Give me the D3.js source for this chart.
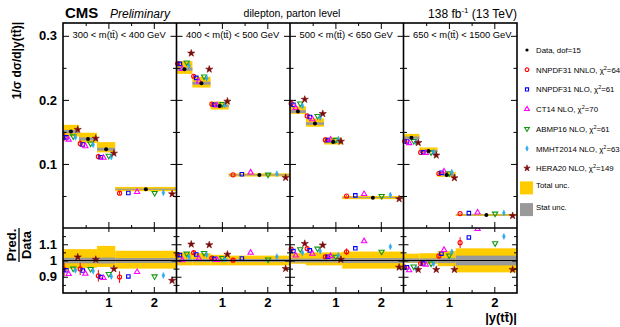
<!DOCTYPE html>
<html>
<head>
<meta charset="utf-8">
<script src="https://cdn.jsdelivr.net/npm/d3@7"></script>
<style>
  body { margin: 0; background: #fff; }
  svg { display: block; font-family: "Liberation Sans", Arial, sans-serif; }
</style>
</head>
<body>
<svg id="chart" width="620" height="327"></svg>
<script>
// mass bins (one panel each) and |y(tt)| bin edges inside a panel
const massBins = ["300 < m(tt\u0304) < 400 GeV", "400 < m(tt\u0304) < 500 GeV",
                  "500 < m(tt\u0304) < 650 GeV", "650 < m(tt\u0304) < 1500 GeV"];
const yEdges = [0, 0.35, 0.75, 1.15, 2.5];

// measured 1/sigma dsigma/d|y(tt)|, 16 bins (panel by panel)
const dataVals = [0.1505, 0.139, 0.123, 0.0605,
                  0.248, 0.226, 0.1906, 0.0828,
                  0.1818, 0.163, 0.1344, 0.0474,
                  0.141, 0.1203, 0.0828, 0.0203];
// relative uncertainties
const totUp = [0.07, 0.07, 0.09, 0.06,  0.05, 0.045, 0.035, 0.03,  0.045, 0.05, 0.05, 0.055,  0.042, 0.045, 0.058, 0.075];
const totDn = [0.05, 0.045, 0.04, 0.05,  0.03, 0.03, 0.03, 0.03,  0.02, 0.03, 0.03, 0.05,  0.015, 0.02, 0.035, 0.073];
const statUnc = [0.017, 0.017, 0.018, 0.015,  0.01, 0.01, 0.01, 0.01,  0.012, 0.012, 0.012, 0.015,  0.013, 0.013, 0.016, 0.03];

// prediction / data
const ratioNnpdfNnlo = [0.944, 0.948, 0.906, 0.898,  1.035, 1.048, 1.015, 1.002,  1.07, 1.073, 1.023, 1.054,  0.96, 0.981, 1.027, 1.11];
const errNnpdfNnlo   = [0.045, 0.04, 0.04, 0.04,  0.01, 0.01, 0.01, 0.01,  0.01, 0.01, 0.012, 0.02,  0.01, 0.01, 0.015, 0.03];
const ratioNnpdfNlo  = [0.94, 0.938, 0.898, 0.902,  1.033, 1.037, 1.01, 1.0125,  1.058, 1.0625, 1.023, 1.075,  0.958, 0.981, 1.042, 1.142];
const ratioCt14      = [0.917, 0.919, 0.892, 0.929,  1.002, 1.0125, 1.004, 1.048,  1.031, 1.042, 1.027, 1.119,  0.94, 0.975, 1.065, 1.194];
const ratioAbmp16    = [0.95, 0.948, 0.917, 0.902,  1.042, 1.046, 1.015, 1.006,  1.069, 1.073, 1.023, 1.054,  0.9625, 0.981, 1.031, 1.106];
const ratioMmht2014  = [0.94, 0.935, 0.902, 0.908,  1.023, 1.035, 1.01, 1.023,  1.048, 1.058, 1.031, 1.085,  0.95, 0.981, 1.052, 1.148];
const ratioHera20    = [1.021, 1.006, 0.948, 0.877,  1.10, 1.096, 1.0375, 0.95,  1.104, 1.094, 1.006, 0.958,  0.944, 0.944, 0.944, 0.944];

const modelNames = ["NNPDF31 NNLO", "NNPDF31 NLO", "CT14 NLO", "ABMP16 NLO", "MMHT2014 NLO", "HERA20 NLO"];
const modelChi2 = [64, 61, 70, 61, 63, 149];
const dof = 15;

const thinDiamond = { draw(ctx, size) { const s = Math.sqrt(size) * 0.75;
  ctx.moveTo(0, -s); ctx.lineTo(s * 0.45, 0); ctx.lineTo(0, s); ctx.lineTo(-s * 0.45, 0); ctx.closePath(); } };

const series = [
  { ratio: ratioNnpdfNnlo, err: errNnpdfNnlo, color: "#ff0000", type: d3.symbolCircle, size: 13, fill: false, slot: 0 },
  { ratio: ratioNnpdfNlo, color: "#0000ff", type: d3.symbolSquare, size: 12, fill: false, slot: 1 },
  { ratio: ratioCt14, color: "#ff00ff", type: d3.symbolTriangle, size: 12, fill: false, slot: 2 },
  { ratio: ratioAbmp16, color: "#119911", type: d3.symbolTriangle, size: 12, fill: false, slot: 4, rot: 180 },
  { ratio: ratioMmht2014, color: "#2fa8f0", type: thinDiamond, size: 16, fill: true, slot: 5 },
  { ratio: ratioHera20, color: "#7a0a0a", type: d3.symbolStar, size: 16, fill: true, slot: 6 }
];
series.forEach((s, i) => { s.name = modelNames[i]; s.chi2 = modelChi2[i]; });

const svg = d3.select("#chart");
const L = 63, R = 517, T = 23, M = 228, B = 293;
const nP = massBins.length, nB = yEdges.length - 1, pw = (R - L) / nP;
const yTop = d3.scaleLinear().domain([0, 0.32]).range([M, T]);
const yRat = d3.scaleLinear().domain([0.8, 1.2]).range([B, M]);
const YELLOW = "#ffcc00", GREY = "#999999";

svg.append("clipPath").attr("id", "clipTop").append("rect").attr("x", L).attr("y", T).attr("width", R - L).attr("height", M - T);
svg.append("clipPath").attr("id", "clipRat").append("rect").attr("x", L).attr("y", M).attr("width", R - L).attr("height", B - M);

const gTop = svg.append("g").attr("clip-path", "url(#clipTop)");
const gRat = svg.append("g").attr("clip-path", "url(#clipRat)");

function marker(g, s, x, y) {
  g.append("path")
    .attr("d", d3.symbol().type(s.type).size(s.size)())
    .attr("transform", `translate(${x},${y})` + (s.rot ? ` rotate(${s.rot})` : ""))
    .attr("fill", s.fill ? s.color : "none")
    .attr("stroke", s.color)
    .attr("stroke-width", s.fill ? 0.6 : 1.1);
}

for (let p = 0; p < nP; p++) {
  const x = d3.scaleLinear().domain([0, 2.5]).range([L + p * pw, L + (p + 1) * pw]);

  for (let b = 0; b < nB; b++) {
    const k = p * nB + b, d = dataVals[k];
    const x0 = x(yEdges[b]), x1 = x(yEdges[b + 1]), bw = x1 - x0;

    // top panel boxes
    gTop.append("rect").attr("x", x0).attr("width", bw)
      .attr("y", yTop(d * (1 + totUp[k]))).attr("height", yTop(d * (1 - totDn[k])) - yTop(d * (1 + totUp[k])))
      .attr("fill", YELLOW);
    gTop.append("rect").attr("x", x0).attr("width", bw)
      .attr("y", yTop(d * (1 + statUnc[k]))).attr("height", yTop(d * (1 - statUnc[k])) - yTop(d * (1 + statUnc[k])))
      .attr("fill", GREY);
    // ratio bands
    gRat.append("rect").attr("x", x0).attr("width", bw)
      .attr("y", yRat(1 + totUp[k])).attr("height", yRat(1 - totDn[k]) - yRat(1 + totUp[k]))
      .attr("fill", YELLOW);
    gRat.append("rect").attr("x", x0).attr("width", bw)
      .attr("y", yRat(1 + statUnc[k])).attr("height", yRat(1 - statUnc[k]) - yRat(1 + statUnc[k]))
      .attr("fill", GREY);
  }
}

// unity line
svg.append("line").attr("x1", L).attr("x2", R).attr("y1", yRat(1)).attr("y2", yRat(1))
  .attr("stroke", "#000").attr("stroke-width", 1);

for (let p = 0; p < nP; p++) {
  const x = d3.scaleLinear().domain([0, 2.5]).range([L + p * pw, L + (p + 1) * pw]);
  for (let b = 0; b < nB; b++) {
    const k = p * nB + b, d = dataVals[k];
    const x0 = x(yEdges[b]), bw = x(yEdges[b + 1]) - x0;
    const slotX = i => x0 + (i + 0.5) / 7 * bw;
    series.forEach(s => {
      const r = s.ratio[k], sx = slotX(s.slot);
      if (s.err) {
        gRat.append("line").attr("x1", sx).attr("x2", sx)
          .attr("y1", yRat(r * (1 + s.err[k]))).attr("y2", yRat(r * (1 - s.err[k])))
          .attr("stroke", s.color).attr("stroke-width", 1);
        gTop.append("line").attr("x1", sx).attr("x2", sx)
          .attr("y1", yTop(d * r * (1 + s.err[k]))).attr("y2", yTop(d * r * (1 - s.err[k])))
          .attr("stroke", s.color).attr("stroke-width", 1);
      }
      marker(gTop, s, sx, yTop(d * r));
      marker(gRat, s, sx, yRat(r));
    });
    gTop.append("circle").attr("cx", slotX(3)).attr("cy", yTop(d)).attr("r", 2).attr("fill", "#000");
  }

  // axes for this panel
  const xa = L + p * pw, xb = L + (p + 1) * pw;
  const noLab = g => g.call(a => a.select(".domain").remove());
  const xMaj = [1, 2], xMin = [0.5, 1.5];
  [[T, d3.axisTop], [M, d3.axisBottom], [B, d3.axisBottom]].forEach(([yy, ax]) => {
    const lab = yy === B;
    svg.append("g").attr("transform", `translate(0,${yy})`)
      .call(ax(x).tickValues(xMaj).tickSize(-6).tickPadding(5).tickFormat(lab ? d3.format("d") : ""))
      .call(noLab)
      .call(g => g.selectAll("text").attr("font-size", 13).attr("font-weight", "bold").attr("fill", "#000"));
    svg.append("g").attr("transform", `translate(0,${yy})`)
      .call(ax(x).tickValues(xMin).tickSize(-3).tickFormat("")).call(noLab);
  });
  // ratio top edge ticks
  svg.append("g").attr("transform", `translate(0,${M})`)
    .call(d3.axisTop(x).tickValues(xMaj).tickSize(-4).tickFormat("")).call(noLab);

  [[xa, d3.axisLeft], [xb, d3.axisRight]].forEach(([xx, ax]) => {
    const lab = p === 0 && ax === d3.axisLeft;
    svg.append("g").attr("transform", `translate(${xx},0)`)
      .call(ax(yTop).tickValues([0.1, 0.2, 0.3]).tickSize(-6).tickPadding(6).tickFormat(lab ? d3.format(".1f") : ""))
      .call(noLab)
      .call(g => g.selectAll("text").attr("font-size", 13).attr("font-weight", "bold").attr("fill", "#000"));
    svg.append("g").attr("transform", `translate(${xx},0)`)
      .call(ax(yTop).tickValues([0.05, 0.15, 0.25]).tickSize(-3.5).tickFormat("")).call(noLab);
    svg.append("g").attr("transform", `translate(${xx},0)`)
      .call(ax(yRat).tickValues([0.9, 1, 1.1]).tickSize(-5).tickPadding(6).tickFormat(lab ? (v => v === 1 ? "1" : d3.format(".1f")(v)) : ""))
      .call(noLab)
      .call(g => g.selectAll("text").attr("font-size", 13).attr("font-weight", "bold").attr("fill", "#000"));
    svg.append("g").attr("transform", `translate(${xx},0)`)
      .call(ax(yRat).tickValues([0.85, 0.95, 1.05, 1.15]).tickSize(-3).tickFormat("")).call(noLab);
  });

  // panel label
  svg.append("text").attr("x", xa + 9.5).attr("y", 37.5).attr("font-size", 9.4).text(massBins[p]);
}

// frames
svg.append("rect").attr("x", L).attr("y", T).attr("width", R - L).attr("height", B - T)
  .attr("fill", "none").attr("stroke", "#000").attr("stroke-width", 1.6);
svg.append("line").attr("x1", L).attr("x2", R).attr("y1", M).attr("y2", M).attr("stroke", "#000").attr("stroke-width", 1.6);
for (let p = 1; p < nP; p++) {
  svg.append("line").attr("x1", L + p * pw).attr("x2", L + p * pw).attr("y1", T).attr("y2", B)
    .attr("stroke", "#000").attr("stroke-width", 1.6);
}

// headers
svg.append("text").attr("x", L + 2).attr("y", 18).attr("font-size", 15).attr("font-weight", "bold").text("CMS");
svg.append("text").attr("x", 110).attr("y", 18).attr("font-size", 12).attr("font-style", "italic").text("Preliminary");
svg.append("text").attr("x", 292).attr("y", 17).attr("font-size", 10.5).attr("text-anchor", "middle").text("dilepton, parton level");
const lumi = svg.append("text").attr("x", R).attr("y", 18).attr("font-size", 12).attr("text-anchor", "end");
lumi.append("tspan").text("138 fb");
lumi.append("tspan").attr("font-size", 8).attr("dy", -5).text("-1");
lumi.append("tspan").attr("dy", 5).text(" (13 TeV)");

// axis titles
svg.append("text").attr("transform", "translate(21,22) rotate(-90)").attr("text-anchor", "end")
  .attr("font-size", 12).attr("font-weight", "bold").text("1/\u03c3 d\u03c3/d|y(tt\u0304)|");
const fr = svg.append("g").attr("transform", "translate(0,245) rotate(-90)");
fr.append("text").attr("x", 0).attr("y", 16).attr("text-anchor", "middle").attr("font-size", 13).attr("font-weight", "bold").text("Pred.");
fr.append("line").attr("x1", -17).attr("x2", 17).attr("y1", 19).attr("y2", 19).attr("stroke", "#000").attr("stroke-width", 1.3);
fr.append("text").attr("x", 0).attr("y", 31).attr("text-anchor", "middle").attr("font-size", 13).attr("font-weight", "bold").text("Data");
svg.append("text").attr("x", R).attr("y", 322).attr("text-anchor", "end")
  .attr("font-size", 13).attr("font-weight", "bold").text("|y(tt\u0304)|");

// legend
const lg = svg.append("g").attr("font-size", 7.8);
const rowY = i => 50 + i * 19.7;
lg.append("circle").attr("cx", 527).attr("cy", rowY(0)).attr("r", 1.6).attr("fill", "#000");
lg.append("text").attr("x", 536).attr("y", rowY(0) + 3).text(`Data, dof=${dof}`);
series.forEach((s, i) => {
  marker(lg, Object.assign({}, s, { size: s.size * 0.8 }), 527, rowY(i + 1));
  const t = lg.append("text").attr("x", 536).attr("y", rowY(i + 1) + 3);
  t.append("tspan").text(`${s.name}, \u03c7`);
  t.append("tspan").attr("font-size", 5.5).attr("dy", -3).text("2");
  t.append("tspan").attr("dy", 3).text(`=${s.chi2}`);
});
[["Total unc.", YELLOW], ["Stat unc.", GREY]].forEach(([lab, c], j) => {
  const yy = rowY(7 + j) + (j ? 2 : 0);
  lg.append("rect").attr("x", 520).attr("y", yy - 6.5).attr("width", 13).attr("height", 13).attr("fill", c);
  lg.append("text").attr("x", 536).attr("y", yy + 0.5).text(lab);
});
</script>
</body>
</html>
